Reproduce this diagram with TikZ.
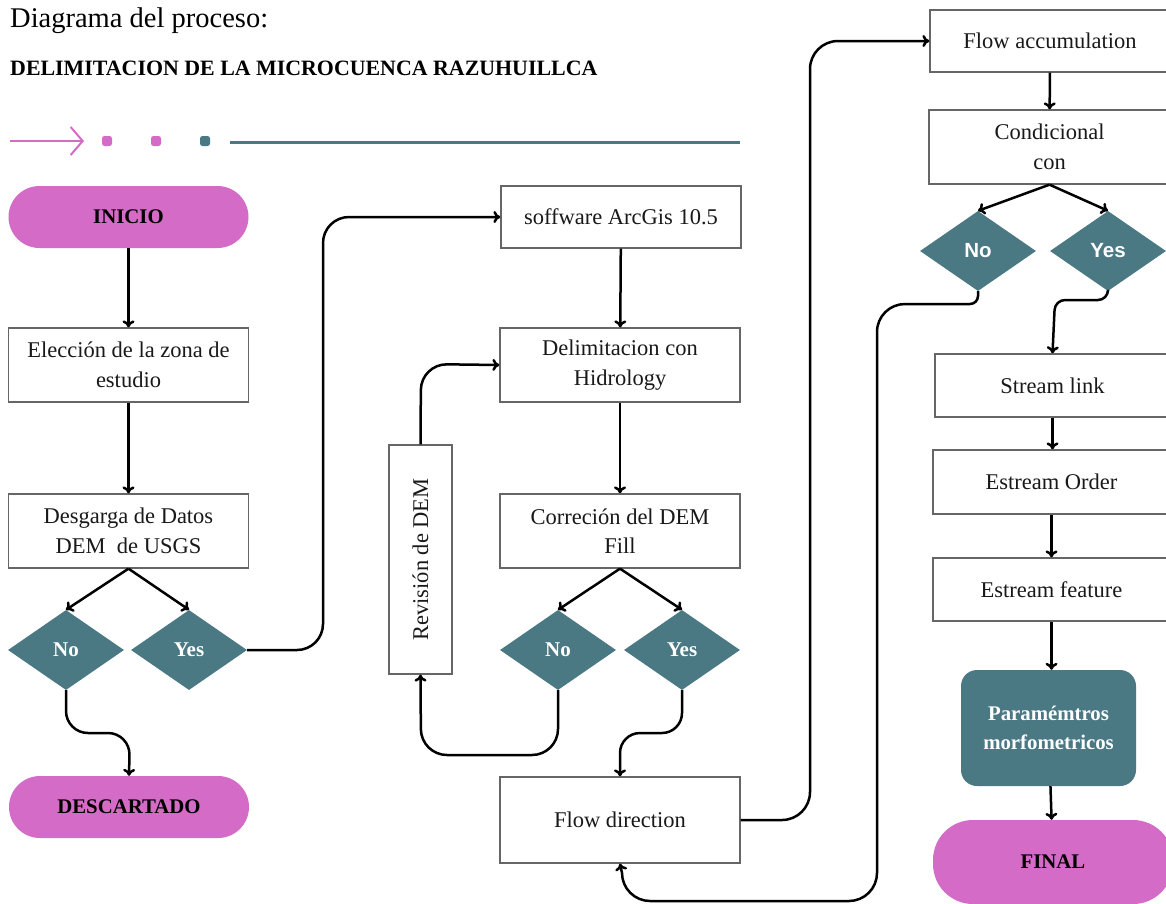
\documentclass[tikz,border=0pt]{standalone}
\usepackage{fontspec}
\setmainfont{Liberation Serif}
\newfontfamily\sansf{Liberation Sans}
\usetikzlibrary{shapes.geometric,arrows.meta,calc}
\definecolor{pk}{HTML}{D46BC7}
\definecolor{tl}{HTML}{4A7883}
\definecolor{bx}{HTML}{666666}
\begin{document}
\begin{tikzpicture}[x=1pt,y=-1pt,
  box/.style={draw=bx, line width=1.3pt, fill=white, minimum width=240pt, minimum height=62pt, align=center, inner sep=2pt, text=black!90, font=\fontsize{22.5}{29.5}\selectfont},
  pill/.style={fill=pk, rounded corners=31pt, minimum width=240pt, minimum height=62pt, text=black, font=\fontsize{20.8}{24}\selectfont\bfseries},
  dia/.style={diamond, fill=tl, minimum width=116pt, minimum height=80pt, inner sep=0pt, text=white, font=\fontsize{21}{24}\selectfont\bfseries},
  sdia/.style={dia, font=\fontsize{20.5}{24}\sansf\bfseries},
  arr/.style={-{To[length=7pt,width=12pt]}, line width=2.5pt, black},
  dot/.style={rounded corners=2.5pt, minimum size=10pt, inner sep=0pt}]
\useasboundingbox (0,0) rectangle (1166,903);
\fill[white] (0,0) rectangle (1166,903);

% header
\node[anchor=base west, inner sep=0pt, font=\fontsize{28.5}{32}\selectfont] (hd) at (10,27) {Diagrama del proceso:};
\node[anchor=base west, inner sep=0pt, font=\fontsize{21.9}{24}\selectfont\bfseries] (tt) at (10,75) {DELIMITACION DE LA MICROCUENCA RAZUHUILLCA};
\coordinate (pa1) at (10,141);
\coordinate (pa2) at (84,141);
\draw[pk, line width=2pt, -{Straight Barb[length=12pt,width=28pt]}] (pa1) -- (pa2);
\node[dot, fill=pk] (d1) at (107,141) {};
\node[dot, fill=pk] (d2) at (156,141) {};
\node[dot, fill=tl] (d3) at (205,141) {};
\coordinate (tl1) at (230,142);
\coordinate (tl2) at (740,142);
\draw[tl, line width=3pt] (tl1) -- (tl2);

% left column
\node[pill] (ini) at (128.5,217) {INICIO};
\node[box, minimum height=74pt] (ele) at (128.5,365) {Elección de la zona de\\estudio};
\node[box, minimum height=74pt] (des) at (128.5,531) {Desgarga de Datos\\DEM\ \ de USGS};
\node[dia] (no1) at (66,650) {No};
\node[dia] (yes1) at (189,650) {Yes};
\node[pill] (desc) at (129,807) {DESCARTADO};

% middle column
\node[box] (soft) at (621,217) {soffware ArcGis 10.5};
\node[box, minimum height=74pt] (del) at (620,365) {Delimitacion con\\Hidrology};
\node[box, minimum height=74pt] (cor) at (620,531) {Correción del DEM\\Fill};
\node[dia] (no2) at (558,650) {No};
\node[dia] (yes2) at (682,650) {Yes};
\node[box, rotate=90, minimum width=229pt, minimum height=63pt] (rev) at (420.5,559.5) {Revisión de DEM};
\node[box, minimum height=86pt] (fdir) at (620,820) {Flow direction};

% right column
\node[box] (facc) at (1050,41) {Flow accumulation};
\node[box, minimum height=74pt, minimum width=241pt] (cond) at (1049.5,147) {Condicional\\con};
\node[sdia] (no3) at (978,251) {No};
\node[sdia] (yes3) at (1108,251) {Yes};
\node[box, minimum height=63pt, minimum width=235pt] (slink) at (1052.5,385.5) {Stream link};
\node[box, minimum height=64pt, minimum width=237pt] (sord) at (1051.5,482) {Estream Order};
\node[box, minimum height=63pt, minimum width=237pt] (sfeat) at (1051.5,589.5) {Estream feature};
\node[fill=tl, rounded corners=16pt, minimum width=175pt, minimum height=116pt, align=center, text=white, font=\fontsize{20.8}{29}\selectfont\bfseries] (par) at (1048.5,728) {Paramémtros\\morfometricos};
\node[pill, minimum height=84pt, rounded corners=40pt] (fin) at (1053,862) {FINAL};

% connectors left
\draw[arr] (ini) -- (ele);
\draw[arr] (ele) -- (des);
\draw[arr] (des.south) -- (no1.north);
\draw[arr] (des.south) -- (yes1.north);
\draw[arr, rounded corners=22pt] (no1.south) -- (66,733) -- (130,733) -- (desc.north);
\coordinate (k1) at (323,0);
\draw[arr, rounded corners=26pt] (yes1.east) -- (k1 |- yes1.east) -- (k1 |- soft.west) -- (soft.west);

% connectors middle
\draw[arr] (soft) -- (del);
\draw[arr] (del) -- (cor);
\draw[arr] (cor.south) -- (no2.north);
\draw[arr] (cor.south) -- (yes2.north);
\draw[arr, rounded corners=26pt] (no2.south) -- (558,755) -- (421,755) -- (rev.west);
\draw[arr, rounded corners=26pt] (rev.east) -- (421,364) -- (del.west);
\draw[arr, rounded corners=20pt] (yes2.south) -- (682,733) -- (620,733) -- (fdir.north);
\coordinate (k2) at (810,0);
\draw[arr, rounded corners=28pt] (fdir.east) -- (k2 |- fdir.east) -- (k2 |- facc.west) -- (facc.west);

% connectors right
\draw[arr] (facc) -- (cond);
\draw[arr] (cond.south) -- (no3.north);
\draw[arr] (cond.south) -- (yes3.north);
\draw[arr, rounded corners=10pt] (yes3.south) -- (1108,300) -- (1055,300) -- (slink.north);
\draw[arr] (slink.south) -- (slink.south |- sord.north);
\draw[arr] (sord.south) -- (sord.south |- sfeat.north);
\draw[arr] (sfeat.south) -- (sfeat.south |- par.north);
\draw[arr] (par) -- (fin);
\draw[arr] (no3.south) -- (978,296) .. controls (978,300.4) and (974.4,304) .. (970,304) -- (905,304) .. controls (889.6,304) and (877,316.4) .. (877,332) -- (877,873) .. controls (877,888.4) and (864.4,901) .. (849,901) -- (650,901) .. controls (634.6,901) and (622,888.4) .. (622,873) -- (fdir.south);
\end{tikzpicture}
\end{document}
